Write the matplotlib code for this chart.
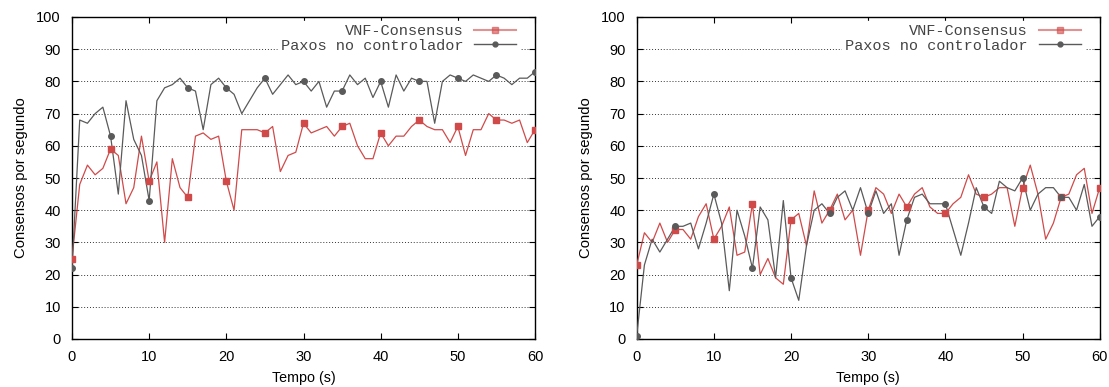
import matplotlib
matplotlib.use("Agg")
import matplotlib.pyplot as plt
from matplotlib.lines import Line2D

t = list(range(0, 61))

left_vnf = [25, 48, 54, 51, 53, 59, 57, 42, 47, 63,
            49, 55, 30, 56, 47, 44, 63, 64, 62, 63,
            49, 40, 65, 65, 65, 64, 66, 52, 57, 58,
            67, 64, 65, 66, 63, 66, 67, 60, 56, 56,
            64, 60, 63, 63, 66, 68, 66, 65, 65, 61,
            66, 57, 65, 65, 70, 68, 68, 67, 68, 61,
            65]
left_paxos = [22, 68, 67, 70, 72, 63, 45, 74, 62, 57,
              43, 74, 78, 79, 81, 78, 77, 65, 79, 81,
              78, 76, 70, 74, 78, 81, 76, 79, 82, 79,
              80, 77, 80, 72, 77, 77, 82, 79, 81, 75,
              80, 72, 82, 77, 81, 80, 80, 67, 80, 82,
              81, 80, 82, 81, 80, 82, 81, 79, 81, 81,
              83]
right_vnf = [23, 33, 30, 36, 30, 34, 34, 31, 38, 42,
             31, 35, 41, 26, 27, 42, 20, 25, 19, 17,
             37, 39, 29, 46, 36, 40, 45, 37, 40, 26,
             40, 47, 45, 39, 45, 41, 45, 47, 41, 39,
             39, 42, 44, 51, 45, 44, 45, 47, 47, 35,
             47, 54, 45, 31, 36, 44, 45, 51, 53, 39,
             47]
right_paxos = [1, 23, 31, 27, 31, 35, 35, 36, 28, 36,
               45, 36, 15, 40, 32, 22, 41, 37, 19, 43,
               19, 12, 29, 40, 42, 39, 44, 46, 40, 47,
               39, 46, 39, 42, 26, 37, 44, 45, 42, 42,
               42, 34, 26, 36, 47, 41, 39, 49, 47, 46,
               50, 40, 45, 47, 47, 44, 44, 40, 48, 35,
               38]

labels = ["VNF-Consensus", "Paxos no controlador"]
xlabel = "Tempo (s)"
ylabel = "Consensos por segundo"
xticks = [0, 10, 20, 30, 40, 50, 60]
yticks = list(range(0, 101, 10))

RED = "#d04a4a"
GRAY = "#5a5a5a"

plt.rcParams['font.family'] = ['Liberation Sans', 'DejaVu Sans']

fig = plt.figure(figsize=(11.09, 3.87), dpi=100)
W, H = 1109, 387

def make_axes(x0):
    return fig.add_axes([x0 / W, (H - 339) / H, 463 / W, 322 / H])

axes = [make_axes(72), make_axes(636.7)]
data = [(left_vnf, left_paxos), (right_vnf, right_paxos)]

for ax, (vnf, pax) in zip(axes, data):
    ax.plot(t, vnf, color=RED, lw=0.9, zorder=3)
    ax.plot(t[::5], vnf[::5], ls='none', marker='s', ms=4.5, color=RED, zorder=4)
    ax.plot(t, pax, color=GRAY, lw=0.9, zorder=3)
    ax.plot(t[::5], pax[::5], ls='none', marker='o', ms=4, color=GRAY, zorder=4)
    ax.set_xlim(0, 60)
    ax.set_ylim(0, 100)
    ax.set_xticks(xticks)
    ax.set_yticks(yticks)
    ax.tick_params(direction='in', top=True, right=True, length=4, width=0.8,
                   labelsize=10.5)
    ax.tick_params(axis='x', pad=8)
    ax.tick_params(axis='y', pad=8)
    ax.yaxis.grid(True, ls=(0, (1, 2)), color='#333333', lw=0.7)
    ax.set_axisbelow(True)
    for s in ax.spines.values():
        s.set_linewidth(1.0)
    ax.set_xlabel(xlabel, fontsize=10.3, labelpad=5)
    ax.set_ylabel(ylabel, fontsize=10.7, labelpad=6)

    h1 = Line2D([0], [0], color=RED, lw=1.5, marker='s', ms=4.5, alpha=0.6,
                markerfacecolor=RED, markeredgecolor=RED)
    h2 = Line2D([0], [0], color=GRAY, lw=1.0, marker='o', ms=3.5)
    leg = ax.legend([h1, h2], labels, loc='upper right',
                    bbox_to_anchor=(1 - 16 / 463, 1 - 4 / 322),
                    frameon=True,
                    prop={'family': 'Liberation Mono', 'size': 11},
                    markerfirst=False, handlelength=2.75, handletextpad=0.7,
                    labelspacing=0.05, borderaxespad=0.0, borderpad=0.2,
                    fancybox=False, framealpha=1.0, edgecolor='white',
                    numpoints=1)
    for txt in leg.get_texts():
        txt.set_color('#444444')
    leg.set_zorder(5)

fig.savefig("out.png", dpi=100)
